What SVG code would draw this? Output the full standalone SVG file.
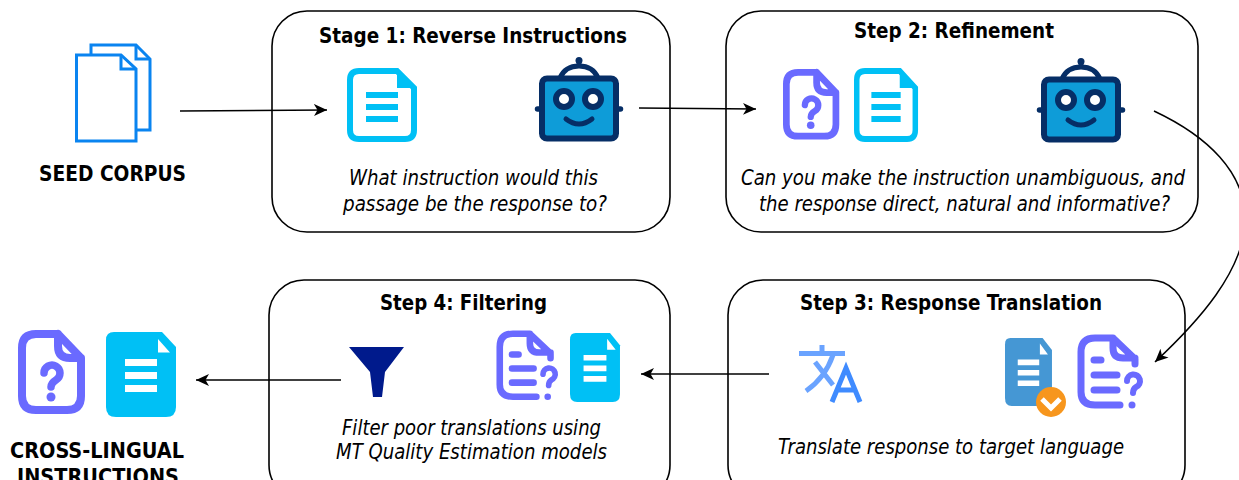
<svg xmlns="http://www.w3.org/2000/svg" width="1239" height="480" viewBox="0 0 1239 480">
<style>
text{font-family:"DejaVu Sans Condensed","DejaVu Sans","Liberation Sans",sans-serif;fill:#000;text-anchor:middle}
.t{font-size:22px;font-weight:bold}
.l{font-size:21.500px;font-weight:bold}
.i{font-size:22px;font-style:italic}
.box{fill:#fff;stroke:#000;stroke-width:1.6}
.c{fill:none;stroke:#000;stroke-width:1.5}
.q{fill:none;stroke:#6a6aff;stroke-linecap:round;stroke-linejoin:round}
</style>
<defs>
<marker id="a" markerUnits="userSpaceOnUse" markerWidth="14" markerHeight="14" refX="13" refY="7" orient="auto"><path d="M0 1 L13 7 L0 13 L3.500 7Z" fill="#000"/></marker>
<g id="robot">
<circle cx="44" cy="3.500" r="3.500" fill="#062e66"/><path d="M44 3V10M25 21Q30 9 44 9Q58 9 63 21" fill="none" stroke="#062e66" stroke-width="5"/>
<path d="M2.500 52H8M80 52H85.500" stroke="#062e66" stroke-width="5.500" stroke-linecap="round"/>
<rect x="7" y="21.500" width="74" height="60" rx="5" fill="#0e9cd8" stroke="#062e66" stroke-width="6"/>
<circle cx="29" cy="42" r="8" fill="#fff" stroke="#062e66" stroke-width="6"/><circle cx="58" cy="42" r="8" fill="#fff" stroke="#062e66" stroke-width="6"/>
<path d="M31 62Q44 72 57 62" fill="none" stroke="#062e66" stroke-width="5" stroke-linecap="round"/>
</g>
<g id="docline">
<path d="M12 3H50L67 20V62Q67 71 58 71H12Q3 71 3 62V12Q3 3 12 3Z" fill="#fff" stroke="#00c0f5" stroke-width="6"/>
<path d="M50 2L68 20H50Z" fill="#00c0f5"/>
<path d="M19 24H51V30H19ZM19 36H51V42H19ZM19 48H51V54H19Z" fill="#00c0f5"/>
</g>
<g id="docq">
<path class="q" stroke-width="8" d="M40 4H18Q4 4 4 18V66Q4 80 18 80H49Q63 80 63 66V28L40 4V16Q40 28 52 28H63"/>
<path class="q" stroke-width="7.500" d="M26 43A8 8 0 1 1 38 50Q33 53 33 57"/>
<circle cx="33" cy="67" r="4.500" fill="#6a6aff"/>
</g>
<g id="doctq">
<path class="q" stroke-width="7" d="M58 30V25L36 4H18Q4 4 4 18V58Q4 71 18 71H43M36 4V14Q36 24 46 24H58"/>
<path class="q" stroke-width="7" d="M17 26H24M17 41H40M17 56H40"/>
<path class="q" stroke-width="6" d="M50 47A6.500 6.500 0 1 1 59 53Q56 55 56 59"/>
<circle cx="55" cy="71" r="3.500" fill="#6a6aff"/>
</g>
<path id="docs" d="M8 0H56L70 15V75Q70 85 60 85H10Q0 85 0 75V8Q0 0 8 0Z"/>
<path id="docw" d="M52 7L64 20.500H52ZM19 27H51V34H19ZM19 40H51V47H19ZM19 53H51V60H19Z" fill="#fff"/>
</defs>
<rect width="1239" height="480" fill="#fff"/>
<g id="seed-corpus">
<path d="M91 45H136L150 59V130H91Z" fill="#fff" stroke="#0a84f0" stroke-width="3"/><path d="M136 45V59H150" fill="none" stroke="#0a84f0" stroke-width="3"/>
<path d="M76.500 55H121L136 69V141H76.500Z" fill="#fff" stroke="#0a84f0" stroke-width="3"/><path d="M121 55V69H136" fill="none" stroke="#0a84f0" stroke-width="3"/>
<text class="l" x="112.500" y="181" textLength="147" lengthAdjust="spacingAndGlyphs">SEED CORPUS</text>
</g>
<g id="stage-1">
<rect class="box" x="272" y="11" width="398" height="221" rx="35"/>
<text class="t" x="473" y="43" textLength="308" lengthAdjust="spacingAndGlyphs">Stage 1: Reverse Instructions</text>
<use href="#docline" transform="translate(347 68)"/>
<use href="#robot" transform="translate(535 57)"/>
<text class="i" x="473.500" y="185" textLength="249" lengthAdjust="spacingAndGlyphs">What instruction would this</text>
<text class="i" x="475" y="211" textLength="264" lengthAdjust="spacingAndGlyphs">passage be the response to?</text>
</g>
<g id="step-2">
<rect class="box" x="726" y="11" width="472" height="221" rx="35"/>
<text class="t" x="954" y="38" textLength="200" lengthAdjust="spacingAndGlyphs">Step 2: Refinement</text>
<use href="#docq" transform="translate(783 69) scale(.84)"/>
<use href="#docline" transform="translate(854 68) scale(.915 1)"/>
<use href="#robot" transform="translate(1037 58)"/>
<text class="i" x="963" y="185" textLength="444" lengthAdjust="spacingAndGlyphs">Can you make the instruction unambiguous, and</text>
<text class="i" x="964.500" y="211" textLength="411" lengthAdjust="spacingAndGlyphs">the response direct, natural and informative?</text>
</g>
<g id="step-3">
<rect class="box" x="728" y="280" width="457" height="220" rx="35"/>
<text class="t" x="951" y="310" textLength="302" lengthAdjust="spacingAndGlyphs">Step 3: Response Translation</text>
<g fill="none" stroke-width="5">
<path d="M799 353.500H845M822 345V353M815 362L833 385M833 355Q825 378 806 391" stroke="#6aa3ff"/>
<path d="M832 402L846 368L860 402M836 390H856" stroke="#3f8bff"/>
</g>
<g transform="translate(1005 338) scale(.671 .8)"><use href="#docs" fill="#4597d4"/><use href="#docw"/></g>
<circle cx="1051" cy="402" r="15" fill="#f7961d"/>
<path d="M1042 399L1051 408L1060 399" fill="none" stroke="#fff" stroke-width="5"/>
<use href="#doctq" transform="translate(1077 334)"/>
<text class="i" x="951" y="454" textLength="346" lengthAdjust="spacingAndGlyphs">Translate response to target language</text>
</g>
<g id="step-4">
<rect class="box" x="269" y="280" width="401" height="220" rx="35"/>
<text class="t" x="463.500" y="310" textLength="167" lengthAdjust="spacingAndGlyphs">Step 4: Filtering</text>
<path d="M349 347H404L385 372L382 397H373L370 372Z" fill="#001a8c"/>
<use href="#doctq" transform="translate(496 330) scale(.94)"/>
<g transform="translate(570 333) scale(.714 .812)"><use href="#docs" fill="#00c0f5"/><use href="#docw"/></g>
<text class="i" x="471.500" y="435" textLength="259" lengthAdjust="spacingAndGlyphs">Filter poor translations using</text>
<text class="i" x="471.500" y="459" textLength="271" lengthAdjust="spacingAndGlyphs">MT Quality Estimation models</text>
</g>
<g id="cross-lingual-instructions">
<use href="#docq" transform="translate(18 330)"/>
<g transform="translate(106 332)"><use href="#docs" fill="#00c0f5"/><use href="#docw"/></g>
<text class="l" x="97" y="458" textLength="174" lengthAdjust="spacingAndGlyphs">CROSS-LINGUAL</text>
<text class="l" x="98" y="484" textLength="162" lengthAdjust="spacingAndGlyphs">INSTRUCTIONS</text>
</g>
<g id="connectors">
<path class="c" marker-end="url(#a)" d="M180 111L327 110"/>
<path class="c" marker-end="url(#a)" d="M639 108L756 109"/>
<path class="c" marker-end="url(#a)" d="M1154 111C1205 135 1248 172 1245 224C1242 272 1200 320 1155 362"/>
<path class="c" marker-end="url(#a)" d="M769 374H641"/>
<path class="c" marker-end="url(#a)" d="M341 380H196"/>
</g>
</svg>
